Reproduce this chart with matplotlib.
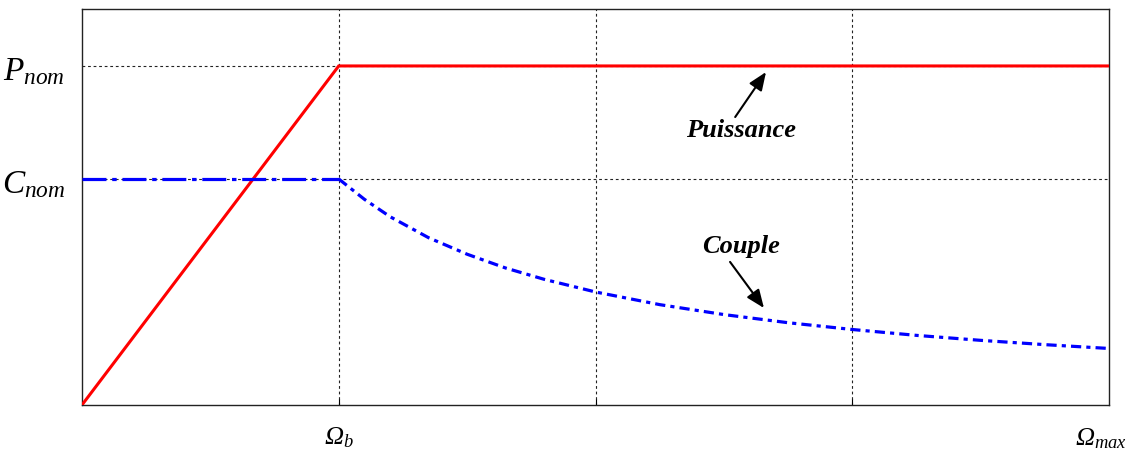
import matplotlib
matplotlib.use("Agg")
import matplotlib.pyplot as plt

plt.rcParams['mathtext.fontset'] = 'custom'
plt.rcParams['mathtext.it'] = 'Liberation Serif:italic'
plt.rcParams['mathtext.rm'] = 'Liberation Serif:italic'
plt.rcParams['mathtext.bf'] = 'Liberation Serif:bold:italic'

# Data (normalised: Omega_b = 1, C_nom = 1, P_nom = 1.5)
omega_p = [0.0, 1.0, 4.0]
puissance = [0.0, 1.5, 1.5]

omega_c = [0.0, 1.0, 1.1, 1.2, 1.35, 1.5, 1.65, 1.8, 2.0, 2.25, 2.5, 2.75, 3.0, 3.25, 3.5, 3.75, 4.0]
couple = [1.0, 1.0, 0.91, 0.833, 0.74, 0.667, 0.606, 0.556, 0.5, 0.444, 0.4, 0.364, 0.334, 0.308, 0.286, 0.267, 0.25]

x_ticks = [1, 2, 3]
x_ticklabels = [r'$\Omega_b$', '', '']
y_ticks = [1.0, 1.5]
y_ticklabels = [r'$C_{nom}$', r'$P_{nom}$']
omega_max_label = r'$\Omega_{max}$'

fig = plt.figure(figsize=(11.43, 4.52), dpi=100)
ax = fig.add_axes([0.0717, 0.1018, 0.8986, 0.8761])
ax.set_xlim(0, 4)
ax.set_ylim(0, 1.752)

grid_kw = dict(color='#222222', lw=0.8, linestyle=(0, (2.5, 2.5)), zorder=1)
for xv in x_ticks:
    ax.axvline(xv, **grid_kw)
for yv in y_ticks:
    ax.axhline(yv, **grid_kw)

ax.plot(omega_p, puissance, color='#ff0000', lw=2.2, zorder=3, solid_joinstyle='miter')

# split couple in constant part and hyperbolic part (same data arrays)
k = omega_c.index(1.0) + 1
ax.plot(omega_c[:k], couple[:k], color='#0000ff', lw=2.3,
        linestyle=(0, (7.5, 1.8, 1.4, 1.8)), zorder=3)
ax.plot(omega_c[k - 1:], couple[k - 1:], color='#0000ff', lw=2.3,
        linestyle=(0, (3.2, 1.6, 1.3, 1.6)), zorder=3)

ax.set_xticks(x_ticks)
ax.set_xticklabels(x_ticklabels, fontsize=19)
ax.set_yticks(y_ticks)
ax.set_yticklabels(y_ticklabels, fontsize=24)
ax.tick_params(axis='x', direction='in', length=4, pad=13, width=0.8)
ax.tick_params(axis='y', direction='in', length=0, pad=12)
ax.text(3.97, -0.085, omega_max_label, fontsize=19, ha='center', va='top')

for s in ax.spines.values():
    s.set_linewidth(1.0)
    s.set_color('#222222')

arrow_kw = dict(arrowstyle='-|>,head_length=1.1,head_width=0.45', color='black', lw=1.5,
                shrinkA=0, shrinkB=0)
text_kw = dict(fontsize=19, fontfamily='Liberation Serif', fontweight='bold', fontstyle='italic',
               ha='center', va='center')

ax.annotate('', xy=(2.664, 1.473), xytext=(2.544, 1.274), arrowprops=arrow_kw)
ax.text(2.567, 1.217, 'Puissance', **text_kw)
ax.annotate('', xy=(2.656, 0.429), xytext=(2.524, 0.633), arrowprops=arrow_kw)
ax.text(2.567, 0.704, 'Couple', **text_kw)

fig.savefig('out.png', dpi=100)
